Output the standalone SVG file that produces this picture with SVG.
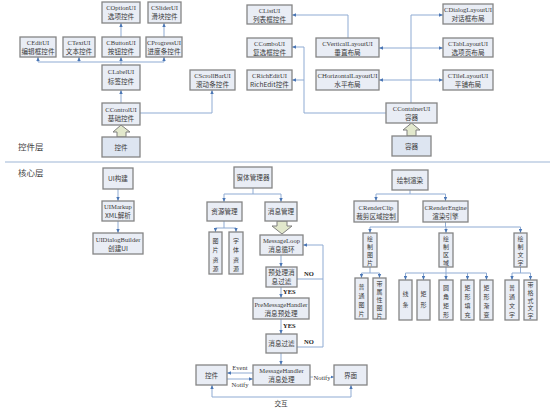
<svg xmlns="http://www.w3.org/2000/svg" width="554" height="410" viewBox="0 0 554 410">
<defs>
<style>
.b{fill:#e9edf5;stroke:#858585;stroke-width:1.3}
.b2{fill:#dde5f1;stroke:#858585;stroke-width:1.3}
.t{font-family:"Liberation Serif","Noto Sans CJK SC",serif;font-size:6.6px;fill:#3a3a3a;text-anchor:middle}
.z{font-family:"Noto Sans CJK SC",sans-serif;font-size:6.6px;fill:#3a3a3a;text-anchor:middle}
.v{font-family:"Noto Sans CJK SC",sans-serif;font-size:6px;fill:#3a3a3a;text-anchor:middle}
.lab{font-family:"Noto Sans CJK SC",sans-serif;font-size:8.5px;fill:#444}
.yn{font-family:"Liberation Serif",serif;font-size:6.5px;fill:#222;font-weight:bold}
.c{fill:none;stroke:#8fabd3;stroke-width:1}
.ba{fill:#e2e8cc;stroke:#7f7f7f;stroke-width:1}
</style>
<marker id="a" viewBox="0 0 6 6" refX="6" refY="3" markerWidth="4" markerHeight="4" markerUnits="userSpaceOnUse" orient="auto-start-reverse">
<path d="M0,0.5 L6,3 L0,5.5 z" fill="#4a76b5"/>
</marker>
</defs>
<rect width="554" height="410" fill="#fff"/>

<g id="connectors">
<path class="c" d="M121,37 V23" marker-end="url(#a)"/>
<path class="c" d="M164,37 V23" marker-end="url(#a)"/>
<path class="c" d="M121,65 V57" marker-end="url(#a)"/>
<path class="c" d="M38,62 H164"/>
<path class="c" d="M38,62 V57" marker-end="url(#a)"/>
<path class="c" d="M79,62 V57" marker-end="url(#a)"/>
<path class="c" d="M164,62 V57" marker-end="url(#a)"/>
<path class="c" d="M121,103 V90" marker-end="url(#a)"/>
<path class="c" d="M140,113 H212 V90" marker-end="url(#a)"/>
<path class="c" d="M386,113 H304 V47 H292" marker-end="url(#a)"/>
<path class="c" d="M304,80 H292" marker-end="url(#a)"/>
<path class="c" d="M348,38 V15 H292" marker-end="url(#a)"/>
<path class="c" d="M411,103 V15 H443" marker-end="url(#a)"/>
<path class="c" d="M379,48 H443" marker-start="url(#a)" marker-end="url(#a)"/>
<path class="c" d="M379,80 H443" marker-start="url(#a)" marker-end="url(#a)"/>
<path d="M5,162 H550" stroke="#9db5d6" stroke-width="1.2" fill="none"/>
<path class="c" d="M118,189 V201" marker-end="url(#a)"/>
<path class="c" d="M118,221 V233" marker-end="url(#a)"/>
<path class="c" d="M253,188 V194"/>
<path class="c" d="M224,194 H281"/>
<path class="c" d="M224,194 V202" marker-end="url(#a)"/>
<path class="c" d="M281,194 V202" marker-end="url(#a)"/>
<path class="c" d="M224,221 V228"/>
<path class="c" d="M215.5,228 H236"/>
<path class="c" d="M215.5,228 V232" marker-end="url(#a)"/>
<path class="c" d="M236,228 V232" marker-end="url(#a)"/>
<path class="c" d="M281,255 V267" marker-end="url(#a)"/>
<path class="c" d="M281,287 V298" marker-end="url(#a)"/>
<path class="c" d="M281,319 V334" marker-end="url(#a)"/>
<path class="c" d="M281,353 V365" marker-end="url(#a)"/>
<path class="c" d="M297,279 H323"/>
<path class="c" d="M297,347 H323 V245 H303" marker-end="url(#a)"/>
<path class="c" d="M253,373 H227" marker-end="url(#a)"/>
<path class="c" d="M227,379 H253" marker-end="url(#a)"/>
<path class="c" d="M310,377 H334" marker-end="url(#a)"/>
<path class="c" d="M212,385 V397 H351 V385" marker-start="url(#a)" marker-end="url(#a)"/>
<path class="c" d="M410,190 V194"/>
<path class="c" d="M376,194 H445.5"/>
<path class="c" d="M376,194 V201" marker-end="url(#a)"/>
<path class="c" d="M445.5,194 V201" marker-end="url(#a)"/>
<path class="c" d="M445.5,222 V227"/>
<path class="c" d="M370,227 H520.5"/>
<path class="c" d="M370,227 V233" marker-end="url(#a)"/>
<path class="c" d="M446,227 V233" marker-end="url(#a)"/>
<path class="c" d="M520.5,227 V233" marker-end="url(#a)"/>
<path class="c" d="M370,267 V273"/>
<path class="c" d="M361.5,273 H379.5"/>
<path class="c" d="M361.5,273 V278" marker-end="url(#a)"/>
<path class="c" d="M379.5,273 V278" marker-end="url(#a)"/>
<path class="c" d="M446,267 V273"/>
<path class="c" d="M405.5,273 H486.5"/>
<path class="c" d="M405.5,273 V280" marker-end="url(#a)"/>
<path class="c" d="M423.5,273 V280" marker-end="url(#a)"/>
<path class="c" d="M446,273 V280" marker-end="url(#a)"/>
<path class="c" d="M467.5,273 V280" marker-end="url(#a)"/>
<path class="c" d="M486.5,273 V280" marker-end="url(#a)"/>
<path class="c" d="M520.5,267 V273"/>
<path class="c" d="M512,273 H530.5"/>
<path class="c" d="M512,273 V280" marker-end="url(#a)"/>
<path class="c" d="M530.5,273 V280" marker-end="url(#a)"/>
</g>

<g id="labels">
<text class="lab" x="18" y="150">控件层</text>
<text class="lab" x="18" y="176">核心层</text>
<text class="yn" x="304" y="276">NO</text>
<text class="yn" x="304" y="344">NO</text>
<text class="yn" x="283" y="294">YES</text>
<text class="yn" x="283" y="328">YES</text>
<text class="t" x="240" y="370">Event</text>
<text class="t" x="240" y="387">Notify</text>
<rect x="313" y="373" width="18" height="8" fill="#fff"/>
<text class="t" x="322" y="380">Notify</text>
<text class="z" x="281" y="406">交互</text>
</g>

<g id="arrows-big">
<path class="ba" d="M121,125 L130,132 H126 V137 H117 V132 H113 Z"/>
<path class="ba" d="M411.5,123 L420,130 H416 V136 H407 V130 H403 Z"/>
<path class="ba" d="M277,221 H287 V226 H292 L282,234 L272,226 H277 Z"/>
</g>

<g id="n-coption"><rect class="b" x="102" y="2" width="38" height="21"/><text class="t" x="121" y="10">COptionUI</text><text class="z" x="121" y="19">选项控件</text></g>
<g id="n-cslider"><rect class="b" x="148" y="2" width="33" height="21"/><text class="t" x="164.5" y="10">CSliderUI</text><text class="z" x="164.5" y="19">滑块控件</text></g>
<g id="n-cedit"><rect class="b" x="20" y="37" width="36" height="20"/><text class="t" x="38" y="45">CEditUI</text><text class="z" x="38" y="54">编辑框控件</text></g>
<g id="n-ctext"><rect class="b" x="63" y="37" width="32" height="20"/><text class="t" x="79" y="45">CTextUI</text><text class="z" x="79" y="54">文本控件</text></g>
<g id="n-cbutton"><rect class="b" x="102" y="37" width="38" height="20"/><text class="t" x="121" y="45">CButtonUI</text><text class="z" x="121" y="54">按钮控件</text></g>
<g id="n-cprogress"><rect class="b" x="146" y="37" width="36" height="20"/><text class="t" x="164" y="45">CProgressUI</text><text class="z" x="164" y="54">进度条控件</text></g>
<g id="n-clabel"><rect class="b" x="102" y="65" width="38" height="25"/><text class="t" x="121" y="74">CLabelUI</text><text class="z" x="121" y="84">标签控件</text></g>
<g id="n-cscrollbar"><rect class="b" x="190" y="70" width="45" height="20"/><text class="t" x="212.5" y="78">CScrollBarUI</text><text class="z" x="212.5" y="87">滚动条控件</text></g>
<g id="n-ccontrol"><rect class="b" x="102" y="103" width="38" height="22"/><text class="t" x="121" y="112">CControlUI</text><text class="z" x="121" y="121">基础控件</text></g>
<g id="n-kongjian"><rect class="b2" x="102" y="137" width="38" height="20"/><text class="z" x="121" y="149.5">控件</text></g>

<g id="n-clist"><rect class="b" x="247" y="5" width="45" height="19"/><text class="t" x="269.5" y="13">CListUI</text><text class="z" x="269.5" y="21.5">列表框控件</text></g>
<g id="n-ccombo"><rect class="b" x="247" y="38" width="45" height="19"/><text class="t" x="269.5" y="46">CComboUI</text><text class="z" x="269.5" y="54.5">复选框控件</text></g>
<g id="n-crichedit"><rect class="b" x="247" y="70" width="45" height="20"/><text class="t" x="269.5" y="78">CRichEditUI</text><text class="z" x="269.5" y="87">RichEdit控件</text></g>
<g id="n-cvertical"><rect class="b" x="316" y="38" width="63" height="19"/><text class="t" x="347.5" y="46">CVerticalLayoutUI</text><text class="z" x="347.5" y="54.5">垂直布局</text></g>
<g id="n-chorizontal"><rect class="b" x="316" y="70" width="63" height="20"/><text class="t" x="347.5" y="78" textLength="60" lengthAdjust="spacingAndGlyphs">CHorizontalLayoutUI</text><text class="z" x="347.5" y="87">水平布局</text></g>
<g id="n-cdialog"><rect class="b" x="443" y="4" width="50" height="20"/><text class="t" x="468" y="12">CDialogLayoutUI</text><text class="z" x="468" y="21">对话框布局</text></g>
<g id="n-ctab"><rect class="b" x="443" y="38" width="50" height="19"/><text class="t" x="468" y="46">CTabLayoutUI</text><text class="z" x="468" y="54.5">选项页布局</text></g>
<g id="n-ctile"><rect class="b" x="443" y="70" width="50" height="20"/><text class="t" x="468" y="78">CTileLayoutUI</text><text class="z" x="468" y="87">平铺布局</text></g>
<g id="n-ccontainer"><rect class="b" x="386" y="103" width="51" height="20"/><text class="t" x="411.5" y="111">CContainerUI</text><text class="z" x="411.5" y="120">容器</text></g>
<g id="n-rongqi"><rect class="b2" x="392" y="136" width="39" height="20"/><text class="z" x="411.5" y="148.5">容器</text></g>

<g id="n-uibuild"><rect class="b" x="103" y="168" width="30" height="21"/><text class="z" x="118" y="181">UI构建</text></g>
<g id="n-uimarkup"><rect class="b" x="102" y="201" width="32" height="20"/><text class="t" x="118" y="209">UIMarkup</text><text class="z" x="118" y="218">XML解析</text></g>
<g id="n-uidialogbuilder"><rect class="b" x="93" y="233" width="50" height="21"/><text class="t" x="118" y="241.5">UIDialogBuilder</text><text class="z" x="118" y="250.5">创建UI</text></g>

<g id="n-winmgr"><rect class="b" x="234" y="167" width="38" height="21"/><text class="z" x="253" y="180">窗体管理器</text></g>
<g id="n-resmgr"><rect class="b" x="207" y="202" width="35" height="19"/><text class="z" x="224.5" y="214">资源管理</text></g>
<g id="n-msgmgr"><rect class="b" x="265" y="202" width="32" height="19"/><text class="z" x="281" y="214">消息管理</text></g>
<g id="n-imgres"><rect class="b" x="209" y="232" width="13" height="42"/><text class="v"><tspan x="215.5" y="242.5">图</tspan><tspan x="215.5" y="252">片</tspan><tspan x="215.5" y="261.5">资</tspan><tspan x="215.5" y="271">源</tspan></text></g>
<g id="n-fontres"><rect class="b" x="229" y="232" width="14" height="42"/><text class="v"><tspan x="236" y="242.5">字</tspan><tspan x="236" y="252">体</tspan><tspan x="236" y="261.5">资</tspan><tspan x="236" y="271">源</tspan></text></g>
<g id="n-msgloop"><rect class="b" x="260" y="235" width="43" height="20"/><text class="t" x="281.5" y="243">MessageLoop</text><text class="z" x="281.5" y="252">消息循环</text></g>
<g id="n-prefilter"><rect class="b" x="266" y="267" width="31" height="20"/><text class="z" x="281.5" y="275">预处理消</text><text class="z" x="281.5" y="284">息过滤</text></g>
<g id="n-premsghandler"><rect class="b" x="253" y="298" width="56" height="21"/><text class="t" x="281" y="306.5">PreMessageHandler</text><text class="z" x="281" y="315.5">消息预处理</text></g>
<g id="n-msgfilter"><rect class="b" x="266" y="334" width="31" height="19"/><text class="z" x="281.5" y="346">消息过滤</text></g>
<g id="n-msghandler"><rect class="b" x="253" y="365" width="57" height="20"/><text class="t" x="281.5" y="373">MessageHandler</text><text class="z" x="281.5" y="382">消息处理</text></g>
<g id="n-ctrl2"><rect class="b" x="196" y="365" width="31" height="20"/><text class="z" x="211.5" y="377.5">控件</text></g>
<g id="n-ui"><rect class="b" x="334" y="365" width="33" height="20"/><text class="z" x="350.5" y="377.5">界面</text></g>

<g id="n-render"><rect class="b" x="392" y="170" width="36" height="20"/><text class="z" x="410" y="182.5">绘制渲染</text></g>
<g id="n-renderclip"><rect class="b" x="354" y="201" width="44" height="21"/><text class="t" x="376" y="209.5">CRenderClip</text><text class="z" x="376" y="218.5">裁剪区域控制</text></g>
<g id="n-renderengine"><rect class="b" x="423" y="201" width="45" height="21"/><text class="t" x="445.5" y="209.5">CRenderEngine</text><text class="z" x="445.5" y="218.5">渲染引擎</text></g>
<g id="n-drawimg"><rect class="b" x="363" y="233" width="14" height="34"/><text class="v"><tspan x="370" y="241">绘</tspan><tspan x="370" y="249">制</tspan><tspan x="370" y="257">图</tspan><tspan x="370" y="265">片</tspan></text></g>
<g id="n-drawarea"><rect class="b" x="439" y="233" width="14" height="34"/><text class="v"><tspan x="446" y="241">绘</tspan><tspan x="446" y="249">制</tspan><tspan x="446" y="257">区</tspan><tspan x="446" y="265">域</tspan></text></g>
<g id="n-drawtext"><rect class="b" x="514" y="233" width="13" height="34"/><text class="v"><tspan x="520.5" y="241">绘</tspan><tspan x="520.5" y="249">制</tspan><tspan x="520.5" y="257">文</tspan><tspan x="520.5" y="265">字</tspan></text></g>
<g id="n-normimg"><rect class="b" x="355" y="278" width="13" height="41"/><text class="v"><tspan x="361.5" y="289">普</tspan><tspan x="361.5" y="298">通</tspan><tspan x="361.5" y="307">图</tspan><tspan x="361.5" y="316">片</tspan></text></g>
<g id="n-attrimg"><rect class="b" x="373" y="278" width="13" height="41"/><text class="v"><tspan x="379.5" y="285.5">带</tspan><tspan x="379.5" y="293.5">属</tspan><tspan x="379.5" y="301.5">性</tspan><tspan x="379.5" y="309.5">图</tspan><tspan x="379.5" y="317.5">片</tspan></text></g>
<g id="n-line"><rect class="b" x="399" y="280" width="13" height="40"/><text class="v"><tspan x="405.5" y="296">线</tspan><tspan x="405.5" y="307">条</tspan></text></g>
<g id="n-rect"><rect class="b" x="417" y="280" width="13" height="40"/><text class="v"><tspan x="423.5" y="296">矩</tspan><tspan x="423.5" y="307">形</tspan></text></g>
<g id="n-roundrect"><rect class="b" x="439" y="280" width="14" height="40"/><text class="v"><tspan x="446" y="290">圆</tspan><tspan x="446" y="299">角</tspan><tspan x="446" y="308">矩</tspan><tspan x="446" y="317">形</tspan></text></g>
<g id="n-rectfill"><rect class="b" x="461" y="280" width="13" height="40"/><text class="v"><tspan x="467.5" y="290">矩</tspan><tspan x="467.5" y="299">形</tspan><tspan x="467.5" y="308">填</tspan><tspan x="467.5" y="317">充</tspan></text></g>
<g id="n-rectgrad"><rect class="b" x="480" y="280" width="13" height="40"/><text class="v"><tspan x="486.5" y="290">矩</tspan><tspan x="486.5" y="299">形</tspan><tspan x="486.5" y="308">渐</tspan><tspan x="486.5" y="317">变</tspan></text></g>
<g id="n-normtext"><rect class="b" x="505" y="280" width="14" height="40"/><text class="v"><tspan x="512" y="290">普</tspan><tspan x="512" y="299">通</tspan><tspan x="512" y="308">文</tspan><tspan x="512" y="317">字</tspan></text></g>
<g id="n-fmttext"><rect class="b" x="524" y="280" width="13" height="40"/><text class="v"><tspan x="530.5" y="287">带</tspan><tspan x="530.5" y="294.8">格</tspan><tspan x="530.5" y="302.6">式</tspan><tspan x="530.5" y="310.4">文</tspan><tspan x="530.5" y="318.2">字</tspan></text></g>
</svg>
